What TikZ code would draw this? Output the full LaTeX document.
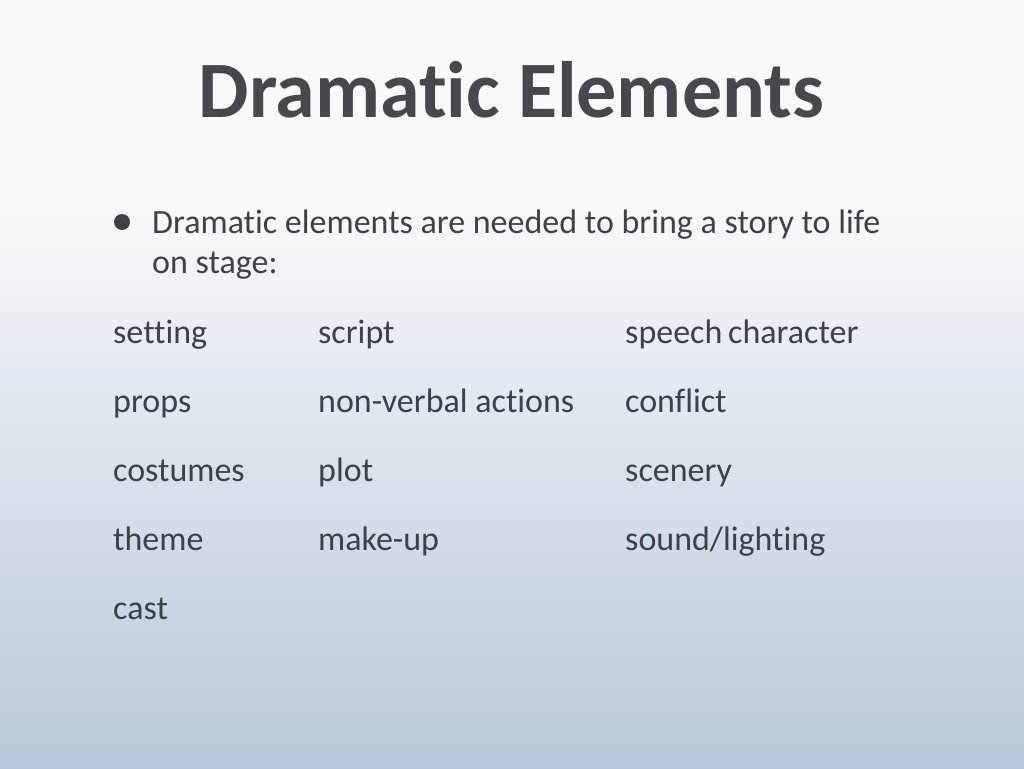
\documentclass[tikz,border=0pt]{standalone}
\usepackage{fontspec}
\setmainfont{Carlito}[Ligatures=NoCommon]
\definecolor{bgtop}{HTML}{F8F9FB}
\definecolor{bgbot}{HTML}{B8C8DA}
\definecolor{titlecol}{HTML}{47484E}
\definecolor{bodycol}{HTML}{3D4249}
\tikzset{
  item/.style={anchor=base west, inner sep=0pt, text=bodycol, font=\fontsize{34}{40}\selectfont},
  titletext/.style={anchor=base, inner sep=0pt, text=titlecol, font=\fontsize{80}{96}\selectfont\bfseries},
}
\begin{document}
\begin{tikzpicture}[x=1pt,y=-1pt]
\useasboundingbox (0,0) rectangle (1024,768);
\fill[bgtop] (0,0) rectangle (1024,200);
\shade[top color=bgtop, bottom color=bgbot] (0,199.5) rectangle (1024,768);
\node[titletext] (title) at (511.5,117) {Dramatic Elements};
\node[circle, fill=bodycol, minimum size=16pt, inner sep=0pt] (bullet) at (122,222) {};
\node[item] (intro1) at (152,233) {Dramatic elements are needed to bring a story to life};
\node[item] (intro2) at (152,273) {on stage:};
\node[item] (setting) at (113,343) {setting};
\node[item] (script) at (318,343) {script};
\node[item] (speech) at (625,343) {speech};
\node[item] (character) at (728,343) {character};
\node[item] (props) at (113,412) {props};
\node[item] (nonverbal) at (318,412) {non-verbal actions};
\node[item] (conflict) at (625,412) {conflict};
\node[item] (costumes) at (113,481) {costumes};
\node[item] (plot) at (318,481) {plot};
\node[item] (scenery) at (625,481) {scenery};
\node[item] (theme) at (113,550) {theme};
\node[item] (makeup) at (318,550) {make-up};
\node[item] (sound) at (625,550) {sound/lighting};
\node[item] (cast) at (113,619) {cast};
\end{tikzpicture}
\end{document}
